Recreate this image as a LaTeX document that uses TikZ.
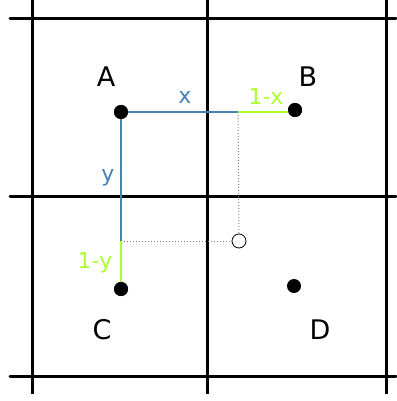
\documentclass[tikz,border=0pt]{standalone}
\usepackage{fontspec}
\setmainfont{DejaVu Sans}
\definecolor{lblue}{HTML}{4682B4}
\definecolor{lgreen}{HTML}{ADFF2F}
\begin{document}
\begin{tikzpicture}[x=1pt,y=-1pt,
  grid/.style={line width=3pt,black},
  dot/.style={circle,fill=black,inner sep=0pt,minimum size=14pt},
  odot/.style={circle,draw=black,line width=0.8pt,inner sep=0pt,minimum size=14pt},
  big/.style={font=\fontsize{27}{30}\selectfont},
  small/.style={font=\fontsize{22}{25}\selectfont},
  bl/.style={draw=lblue,line width=2pt},
  gr/.style={draw=lgreen,line width=2pt},
  dots/.style={draw=gray,line width=1pt,dotted}]
\useasboundingbox (0,0) rectangle (396,401);
% grid
\coordinate (v1t) at (32,0);   \coordinate (v1b) at (32,394);
\coordinate (v2t) at (207,0);  \coordinate (v2b) at (207,394);
\coordinate (v3t) at (386,0);  \coordinate (v3b) at (386,394);
\coordinate (h1l) at (10,19);  \coordinate (h1r) at (396,19);
\coordinate (h2l) at (10,196); \coordinate (h2r) at (396,196);
\coordinate (h3l) at (10,376); \coordinate (h3r) at (396,376);
\foreach \n in {v1,v2,v3} \draw[grid] (\n t) -- (\n b);
\foreach \n in {h1,h2,h3} \draw[grid,line cap=round] (\n l) -- (\n r);
% points
\node[dot] (A) at (121,112) {};
\node[dot] (B) at (295,110) {};
\node[dot] (C) at (121,289) {};
\node[dot] (D) at (294,286) {};
\node[odot] (P) at (239,241) {};
\coordinate (px) at (238,112);
\coordinate (py) at (121,241);
\coordinate (pb) at (295,112);
% lines
\draw[dots] (px) -- (P.north);
\draw[dots] (py) -- (P.west);
\draw[bl] (A.center) -- (px);
\draw[gr] (px) -- (pb);
\draw[bl] (A.center) -- (py);
\draw[gr] (py) -- (C.center);
\node[dot] at (A) {};
\node[dot] at (B) {};
\node[dot] at (C) {};
% labels
\node[big] (la) at (106,77) {A};
\node[big] (lb) at (308,77) {B};
\node[big] (lc) at (102,330) {C};
\node[big] (ld) at (320,330) {D};
\node[small,text=lblue] (lx) at (185,97) {x};
\node[small,text=lgreen] (l1x) at (266,96) {1-x};
\node[small,text=lblue] (ly) at (108,178) {y};
\node[small,text=lgreen] (l1y) at (95,263) {1-y};
\end{tikzpicture}
\end{document}
